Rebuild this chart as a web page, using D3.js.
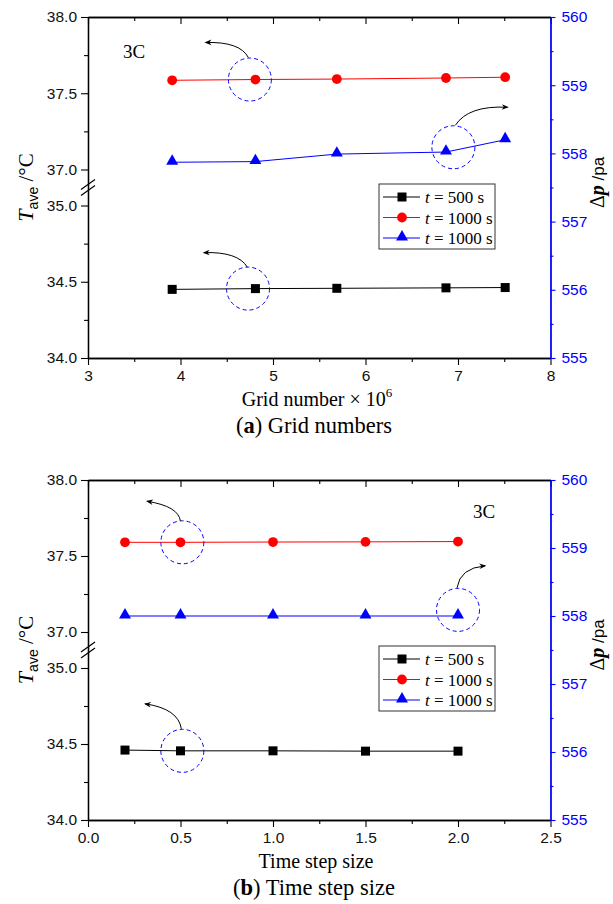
<!DOCTYPE html>
<html>
<head>
<meta charset="utf-8">
<script src="https://cdn.jsdelivr.net/npm/d3@7"></script>
<style>
  html, body { margin: 0; padding: 0; background: #fff; }
  svg { display: block; }
</style>
</head>
<body>
<svg id="chart" width="613" height="904"></svg>
<script>
// ---------------- DATA ----------------
const gridNumbers = [3.91, 4.81, 5.69, 6.87, 7.51];          // ×10^6
const gridT500 = [34.45, 34.455, 34.457, 34.46, 34.462];       // T_ave, °C
const gridT1000 = [37.585, 37.59, 37.593, 37.6, 37.605];       // T_ave, °C
const gridDp1000 = [557.87, 557.88, 557.99, 558.02, 558.2];    // Δp, pa

const stepSizes = [0.2, 0.5, 1.0, 1.5, 2.0];
const stepT500 = [34.46, 34.455, 34.455, 34.453, 34.453];
const stepT1000 = [37.59, 37.59, 37.592, 37.593, 37.595];
const stepDp1000 = [558.0, 558.0, 558.0, 558.0, 558.0];

const leftTicks = [34.0, 34.5, 35.0, 37.0, 37.5, 38.0];
const leftMinorTicks = [34.25, 34.75, 37.25, 37.75];
const rightTicks = [555, 556, 557, 558, 559, 560];
const rightMinorTicks = [555.5, 556.5, 557.5, 558.5, 559.5];
const gridXTicks = [3, 4, 5, 6, 7, 8];
const gridXMinor = [3.5, 4.5, 5.5, 6.5, 7.5];
const stepXTicks = [0.0, 0.5, 1.0, 1.5, 2.0, 2.5];
const stepXMinor = [0.25, 0.75, 1.25, 1.75, 2.25];

const seriesLabels = ["500 s", "1000 s", "1000 s"];

// annotation circles (data coords): [x, y, axis]
const gridCircles = [[4.75, 37.59, "L"], [4.73, 34.455, "L"], [6.95, 558.09, "R"]];
const stepCircles = [[0.51, 37.59, "L"], [0.51, 34.455, "L"], [2.0, 558.09, "R"]];

// ---------------- DRAWING ----------------
const svg = d3.select("#chart");
const SERIF = "'Liberation Serif', 'Times New Roman', serif";
const SANS = "'Liberation Sans', Arial, sans-serif";
const BLUE = "#0000ff", RED = "#ff0000";

const defs = svg.append("defs");
defs.append("marker").attr("id", "arrowhead")
  .attr("viewBox", "0 0 10 10").attr("refX", 8).attr("refY", 5)
  .attr("markerWidth", 9).attr("markerHeight", 7)
  .attr("markerUnits", "userSpaceOnUse")
  .attr("orient", "auto")
  .append("path").attr("d", "M0,1 L10,5 L0,9 L3,5 Z").attr("fill", "#000");

function panel(cfg) {
  const L = 88, R = 550.5, T = cfg.top, B = cfg.bottom;
  const g = svg.append("g");
  const x = d3.scaleLinear().domain(cfg.xDomain).range([L, R]);
  const segH = (B - T - 36) / 2;
  const yL = d3.scaleLinear().domain([34, 35, 37, 38]).range([B, B - segH, T + segH, T]);
  const yR = d3.scaleLinear().domain([555, 560]).range([B, T]);

  function styleAxis(sel, color) {
    sel.selectAll("path.domain").attr("stroke", color).attr("stroke-width", 1.3);
    sel.selectAll(".tick line").attr("stroke", color).attr("stroke-width", 1.1);
    sel.selectAll(".tick text").attr("fill", color === "#000" ? "#111" : color)
      .attr("font-family", SANS).attr("font-size", 15.5);
  }

  // bottom axis
  const xa = g.append("g").attr("transform", `translate(0,${B})`)
    .call(d3.axisBottom(x).tickValues(cfg.xTicks).tickFormat(cfg.xFormat).tickSize(7).tickSizeOuter(0).tickPadding(5));
  styleAxis(xa, "#000");
  const xam = g.append("g").attr("transform", `translate(0,${B})`)
    .call(d3.axisBottom(x).tickValues(cfg.xMinor).tickFormat("").tickSize(4).tickSizeOuter(0));
  styleAxis(xam, "#000");
  // top axis (ticks inward)
  const xt = g.append("g").attr("transform", `translate(0,${T})`)
    .call(d3.axisTop(x).tickValues(cfg.xTicks).tickFormat("").tickSize(-7).tickSizeOuter(0));
  styleAxis(xt, "#000");
  const xtm = g.append("g").attr("transform", `translate(0,${T})`)
    .call(d3.axisTop(x).tickValues(cfg.xMinor).tickFormat("").tickSize(-4).tickSizeOuter(0));
  styleAxis(xtm, "#000");

  // left axis
  const la = g.append("g").attr("transform", `translate(${L},0)`)
    .call(d3.axisLeft(yL).tickValues(leftTicks).tickFormat(d3.format(".1f")).tickSize(7).tickSizeOuter(0).tickPadding(4));
  styleAxis(la, "#000");
  const lam = g.append("g").attr("transform", `translate(${L},0)`)
    .call(d3.axisLeft(yL).tickValues(leftMinorTicks).tickFormat("").tickSize(4).tickSizeOuter(0));
  styleAxis(lam, "#000");
  // axis break marks
  const by = T + segH + 18;
  [-3, 3].forEach(o => {
    g.append("line").attr("x1", L - 7).attr("y1", by + o + 5).attr("x2", L + 7).attr("y2", by + o - 5)
      .attr("stroke", "#000").attr("stroke-width", 1.2);
  });

  // right axis
  const ra = g.append("g").attr("transform", `translate(${R},0)`)
    .call(d3.axisRight(yR).tickValues(rightTicks).tickFormat(d3.format("d")).tickSize(5).tickSizeOuter(0).tickPadding(6));
  styleAxis(ra, BLUE);
  const ram = g.append("g").attr("transform", `translate(${R},0)`)
    .call(d3.axisRight(yR).tickValues(rightMinorTicks).tickFormat("").tickSize(3).tickSizeOuter(0));
  styleAxis(ram, BLUE);

  // series
  const line = (ys, ysc) => d3.line().x((d, i) => x(cfg.xs[i])).y(d => ysc(d))(ys);
  g.append("path").attr("d", line(cfg.t500, yL)).attr("fill", "none").attr("stroke", "#000").attr("stroke-width", 1);
  g.append("path").attr("d", line(cfg.t1000, yL)).attr("fill", "none").attr("stroke", RED).attr("stroke-width", 1);
  g.append("path").attr("d", line(cfg.dp1000, yR)).attr("fill", "none").attr("stroke", BLUE).attr("stroke-width", 1);

  const sq = d3.symbol().type(d3.symbolSquare).size(81);
  const ci = d3.symbol().type(d3.symbolCircle).size(75);
  const tr = d3.symbol().type(d3.symbolTriangle).size(62);
  g.selectAll(".m500").data(cfg.t500).join("path").attr("d", sq)
    .attr("transform", (d, i) => `translate(${x(cfg.xs[i])},${yL(d)})`).attr("fill", "#000");
  g.selectAll(".m1000").data(cfg.t1000).join("path").attr("d", ci)
    .attr("transform", (d, i) => `translate(${x(cfg.xs[i])},${yL(d)})`).attr("fill", RED);
  g.selectAll(".mdp").data(cfg.dp1000).join("path").attr("d", tr)
    .attr("transform", (d, i) => `translate(${x(cfg.xs[i])},${yR(d) - 1})`).attr("fill", BLUE);

  // annotation circles + arrows
  cfg.circles.forEach((c, k) => {
    const cx = x(c[0]), cy = (c[2] === "L" ? yL : yR)(c[1]);
    g.append("circle").attr("cx", cx).attr("cy", cy).attr("r", 21.5)
      .attr("fill", "none").attr("stroke", BLUE).attr("stroke-width", 1).attr("stroke-dasharray", "4,3");
    const a = cfg.arrows[k];
    g.append("path")
      .attr("d", `M${cx + a[0]},${cy + a[1]} Q${cx + a[2]},${cy + a[3]} ${cx + a[4]},${cy + a[5]}`)
      .attr("fill", "none").attr("stroke", "#000").attr("stroke-width", 1)
      .attr("marker-end", "url(#arrowhead)");
  });

  // 3C label
  g.append("text").attr("x", cfg.tagPos[0]).attr("y", cfg.tagPos[1])
    .attr("font-family", SERIF).attr("font-size", 19).attr("fill", "#000").text("3C");

  // legend
  const lx = 379, ly = cfg.legendTop;
  g.append("rect").attr("x", lx).attr("y", ly).attr("width", 116).attr("height", 65)
    .attr("fill", "#fff").attr("stroke", "#333").attr("stroke-width", 1);
  const items = [
    { color: "#000", sym: sq },
    { color: RED, sym: ci },
    { color: BLUE, sym: tr }
  ];
  items.forEach((it, i) => {
    const yy = ly + 13 + i * 20.5;
    g.append("line").attr("x1", lx + 4).attr("x2", lx + 41).attr("y1", yy).attr("y2", yy)
      .attr("stroke", it.color).attr("stroke-width", 1);
    g.append("path").attr("d", it.sym).attr("transform", `translate(${lx + 23},${yy - (i === 2 ? 1 : 0)})`).attr("fill", it.color);
    const t = g.append("text").attr("x", lx + 46).attr("y", yy + 6)
      .attr("font-family", SERIF).attr("font-size", 17).attr("fill", "#000");
    t.append("tspan").attr("font-style", "italic").text("t");
    t.append("tspan").text(" = " + seriesLabels[i]);
  });

  // left title
  const lt = g.append("text").attr("transform", `translate(33,${(T + B) / 2}) rotate(-90)`)
    .attr("text-anchor", "middle").attr("font-family", SERIF).attr("font-size", 22).attr("fill", "#000");
  lt.append("tspan").attr("font-style", "italic").text("T");
  lt.append("tspan").attr("font-size", 14).attr("dy", 5).attr("font-family", SANS).text("ave");
  lt.append("tspan").attr("dy", -5).attr("font-size", 21).text(" /°C");

  // right title
  const rt = g.append("text").attr("transform", `translate(604,${(T + B) / 2 - 5}) rotate(-90)`)
    .attr("text-anchor", "middle").attr("font-family", SERIF).attr("font-size", 20).attr("fill", "#000");
  rt.append("tspan").text("Δ");
  rt.append("tspan").attr("font-style", "italic").attr("font-weight", "bold").text("p");
  rt.append("tspan").attr("font-family", SANS).attr("font-size", 17).text(" /pa");

  // x title
  const xtT = g.append("text").attr("x", cfg.xTitleX).attr("y", B + 48)
    .attr("text-anchor", "middle").attr("font-family", SERIF).attr("font-size", 20).attr("fill", "#000");
  cfg.xTitle(xtT);

  // caption
  const cap = g.append("text").attr("x", 314).attr("y", B + 75)
    .attr("text-anchor", "middle").attr("font-family", SERIF).attr("font-size", 22.5).attr("fill", "#000");
  cap.append("tspan").text("(");
  cap.append("tspan").attr("font-weight", "bold").text(cfg.capLetter);
  cap.append("tspan").text(") " + cfg.capText);
}

panel({
  top: 17, bottom: 358,
  xDomain: [3, 8], xTicks: gridXTicks, xMinor: gridXMinor, xFormat: d3.format("d"),
  xs: gridNumbers, t500: gridT500, t1000: gridT1000, dp1000: gridDp1000,
  circles: gridCircles,
  arrows: [[-1.5, -22, -10, -38, -44, -37], [-0.7, -21.5, -10, -37, -44, -36], [2, -22, 15, -42, 54, -40]],
  tagPos: [123, 58], legendTop: 184,
  xTitleX: 317,
  xTitle: t => {
    t.append("tspan").text("Grid number × 10");
    t.append("tspan").attr("font-size", 13).attr("dy", -9).text("6");
  },
  capLetter: "a", capText: "Grid numbers"
});

panel({
  top: 480, bottom: 820,
  xDomain: [0, 2.5], xTicks: stepXTicks, xMinor: stepXMinor, xFormat: d3.format(".1f"),
  xs: stepSizes, t500: stepT500, t1000: stepT1000, dp1000: stepDp1000,
  circles: stepCircles,
  arrows: [[-2, -21.5, -4, -36, -35, -41], [-1, -22, -4, -42, -37, -47], [-1, -22, 2, -42, 27, -44]],
  tagPos: [473, 518], legendTop: 646,
  xTitleX: 316,
  xTitle: t => { t.append("tspan").text("Time step size"); },
  capLetter: "b", capText: "Time step size"
});
</script>
</body>
</html>
